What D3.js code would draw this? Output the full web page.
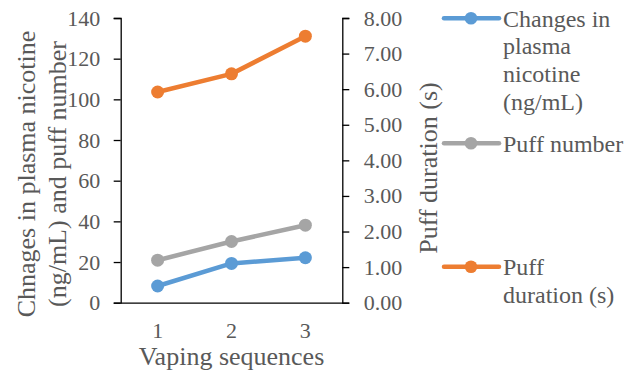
<!DOCTYPE html>
<html>
<head>
<meta charset="utf-8">
<script src="https://cdn.jsdelivr.net/npm/d3@7"></script>
<style>
  html, body { margin: 0; padding: 0; background: #fff; }
  svg { display: block; }
</style>
</head>
<body>
<svg id="chart" width="628" height="389"></svg>
<script>
// Vaping sequences on the x axis
const categories = ["1", "2", "3"];
// Left axis series
const plasmaNicotine = [8.2, 19.3, 22.1];   // ng/mL
const puffNumber = [20.9, 30.1, 38.1];
// Right axis series
const puffDuration = [5.92, 6.43, 7.49];    // seconds
// Tick values
const leftTicks = [0, 20, 40, 60, 80, 100, 120, 140];
const rightTicks = [0, 1, 2, 3, 4, 5, 6, 7, 8];

const FONT = "Liberation Serif";
const TEXT_COLOR = "#595959";

const series = [
  { name: ["Changes in", "plasma", "nicotine", "(ng/mL)"], values: plasmaNicotine, axis: "left", color: "#5B9BD5", legendY: 18.3 },
  { name: ["Puff number"], values: puffNumber, axis: "left", color: "#A5A5A5", legendY: 143.3 },
  { name: ["Puff", "duration (s)"], values: puffDuration, axis: "right", color: "#ED7D31", legendY: 266.7 }
];

const svg = d3.select("#chart");
const plot = { left: 120.7, right: 342.3, top: 18, bottom: 302.7 };

const x = d3.scaleBand().domain(categories).range([plot.left, plot.right]);
const yLeft = d3.scaleLinear().domain([0, 140]).range([plot.bottom, plot.top]);
const yRight = d3.scaleLinear().domain([0, 8]).range([plot.bottom, plot.top]);

function label(sel, size) {
  return sel.style("font-family", FONT).style("font-size", size + "px").attr("fill", TEXT_COLOR);
}

// Left axis
const gL = svg.append("g").attr("transform", `translate(${plot.left},0)`)
  .call(d3.axisLeft(yLeft).tickValues(leftTicks).tickSize(7).tickPadding(13.5).tickSizeOuter(7));
// Right axis
const gR = svg.append("g").attr("transform", `translate(${plot.right},0)`)
  .call(d3.axisRight(yRight).tickValues(rightTicks).tickFormat(d3.format(".2f")).tickSize(7).tickPadding(14.5).tickSizeOuter(7));
// Category axis
const gB = svg.append("g").attr("transform", `translate(0,${plot.bottom})`)
  .call(d3.axisBottom(x).tickSize(0).tickSizeOuter(0).tickPadding(0));

[gL, gR, gB].forEach(g => {
  g.attr("font-family", null);
  g.selectAll("path.domain").attr("stroke", "#000").attr("stroke-width", 1.3);
  g.selectAll(".tick line").attr("stroke", "#000").attr("stroke-width", 1.3);
  label(g.selectAll(".tick text"), 22);
});
gB.selectAll(".tick text").attr("y", 35.5).attr("dy", "0");

// Axis titles
const leftTitle = ["Chnages in plasma nicotine", "(ng/mL) and puff number"];
const leftTitleX = [35, 66];
leftTitle.forEach((t, i) => {
  label(svg.append("text"), 26)
    .attr("transform", `translate(${leftTitleX[i]},174) rotate(-90)`)
    .attr("text-anchor", "middle")
    .text(t);
});
label(svg.append("text"), 26)
  .attr("transform", "translate(437,168) rotate(-90)")
  .attr("text-anchor", "middle")
  .text("Puff duration (s)");
label(svg.append("text"), 26)
  .attr("x", (plot.left + plot.right) / 2)
  .attr("y", 365)
  .attr("text-anchor", "middle")
  .text("Vaping sequences");

// Lines and markers
const cx = c => x(c) + x.bandwidth() / 2;
series.forEach(s => {
  const y = s.axis === "left" ? yLeft : yRight;
  const pts = categories.map((c, i) => [cx(c), y(s.values[i])]);
  svg.append("path")
    .attr("d", d3.line()(pts))
    .attr("fill", "none")
    .attr("stroke", s.color)
    .attr("stroke-width", 4.5)
    .attr("stroke-linejoin", "round")
    .attr("stroke-linecap", "round");
  svg.append("g").selectAll("circle").data(pts).join("circle")
    .attr("cx", d => d[0]).attr("cy", d => d[1]).attr("r", 6.5)
    .attr("fill", s.color);
});

// Legend
series.forEach(s => {
  const g = svg.append("g");
  g.append("line")
    .attr("x1", 444).attr("x2", 499)
    .attr("y1", s.legendY).attr("y2", s.legendY)
    .attr("stroke", s.color).attr("stroke-width", 4.5)
    .attr("stroke-linecap", "round");
  g.append("circle").attr("cx", 471).attr("cy", s.legendY).attr("r", 6.3).attr("fill", s.color);
  s.name.forEach((line, i) => {
    label(g.append("text"), 24)
      .attr("x", 503)
      .attr("y", s.legendY + 8.3 + i * 27.8)
      .text(line);
  });
});
</script>
</body>
</html>
